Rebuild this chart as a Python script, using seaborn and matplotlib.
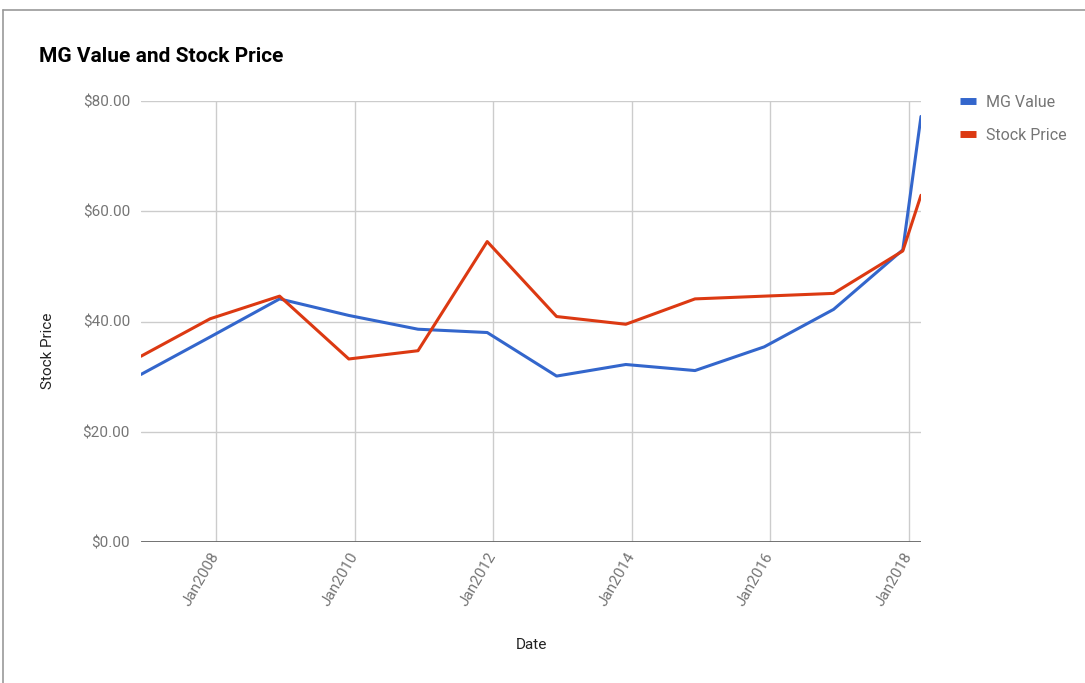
import pandas as pd
import seaborn as sns
import matplotlib.pyplot as plt
import matplotlib.dates as mdates
from matplotlib.lines import Line2D

# yearly values (last point is early 2018)
dates = ["2006-11-30", "2007-11-30", "2008-11-30", "2009-11-30", "2010-11-30",
         "2011-11-30", "2012-11-30", "2013-11-30", "2014-11-30", "2015-11-30",
         "2016-11-30", "2017-11-30", "2018-03-06"]
mg_value = [30.4, 37.2, 44.1, 41.1, 38.6, 38.0, 30.1, 32.2, 31.1, 35.4, 42.2, 53.0, 77.2]
stock_price = [33.7, 40.5, 44.6, 33.2, 34.7, 54.5, 40.9, 39.5, 44.1, 44.6, 45.1, 52.8, 62.9]

series_names = ["MG Value", "Stock Price"]
colors = ["#3366CC", "#DC3912"]
y_ticks = [0, 20, 40, 60, 80]
x_tick_years = [2008, 2010, 2012, 2014, 2016, 2018]

df = pd.DataFrame({"Date": pd.to_datetime(dates), "MG Value": mg_value, "Stock Price": stock_price})
long_df = df.melt(id_vars="Date", var_name="Series", value_name="Price")

sns.set_theme(style="white")
plt.rcParams['font.family'] = ['Roboto', 'DejaVu Sans']

W, H = 1085, 683
fig = plt.figure(figsize=(W / 100, H / 100), dpi=100)
ax = fig.add_axes([141 / W, 1 - 542 / H, (921 - 141) / W, (542 - 101) / H])

sns.lineplot(data=long_df, x="Date", y="Price", hue="Series", hue_order=series_names,
             palette=colors, linewidth=2.2, ax=ax, legend=False)

ax.set_xlim(df["Date"].iloc[0], df["Date"].iloc[-1])
ax.set_ylim(0, 80)
ax.set_yticks(y_ticks)
ax.set_yticklabels([f"${v:.2f}" for v in y_ticks])
ax.set_xticks([pd.Timestamp(f"{y}-01-01") for y in x_tick_years])
ax.xaxis.set_major_formatter(mdates.DateFormatter("%b%Y"))

ax.grid(True, color="#cccccc", linewidth=1)
ax.axhline(0, color="#666666", linewidth=2, zorder=1.5)
for s in ax.spines.values():
    s.set_visible(False)
ax.tick_params(axis="both", length=0, labelsize=11, labelcolor="#757575")
ax.tick_params(axis="y", pad=8)
ax.tick_params(axis="x", pad=8)
for lab in ax.get_xticklabels():
    lab.set_rotation(60)
    lab.set_ha("right")
    lab.set_va("center")
    lab.set_rotation_mode("anchor")

ax.set_xlabel("")
ax.set_ylabel("")
fig.text(47.5 / W, 1 - 351 / H, "Stock Price", rotation=90, ha="center", va="center",
         fontsize=11, color="#222222")
fig.text(531 / W, 1 - 645 / H, "Date", ha="center", va="center", fontsize=11, color="#222222")
fig.text(39 / W, 1 - 57 / H, "MG Value and Stock Price", ha="left", va="center",
         fontsize=15, fontweight="bold", color="#000000")

handles = [Line2D([0], [0], color=c, linewidth=5, solid_capstyle="butt") for c in colors]
leg = ax.legend(handles, series_names, loc="upper left", bbox_to_anchor=(960 / W, 1 - 95 / H),
                bbox_transform=fig.transFigure, frameon=False, handlelength=1.0,
                handletextpad=0.65, labelspacing=1.1, fontsize=11.5,
                borderpad=0, borderaxespad=0)
for t in leg.get_texts():
    t.set_color("#757575")

# outer frame of the screenshot
fig.add_artist(Line2D([3 / W, 1], [1 - 10 / H, 1 - 10 / H], color="#999999", linewidth=1.2))
fig.add_artist(Line2D([3 / W, 3 / W], [0, 1 - 10 / H], color="#999999", linewidth=1.2))

fig.savefig("out.png", dpi=100)
